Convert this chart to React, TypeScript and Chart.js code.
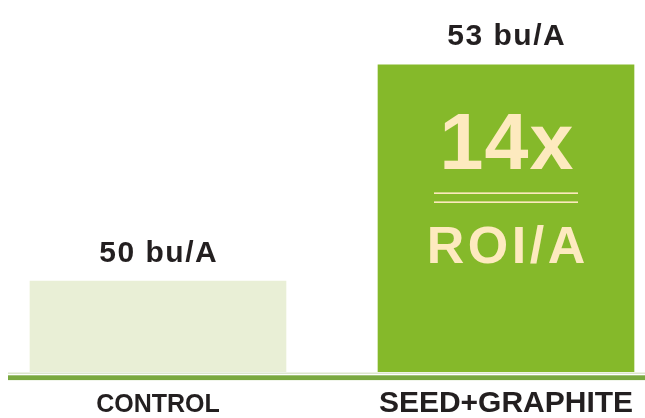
import React, { useEffect, useRef } from "react";
import { Chart, registerables } from "chart.js";

Chart.register(...registerables);

const categories = ["CONTROL", "SEED+GRAPHITE"];
const yieldValues = [50, 53];
const valueLabels = ["50 bu/A", "53 bu/A"];
const roiMultiple = "14x";
const roiLabel = "ROI/A";

const barColors = ["#e9efd6", "#85b92a"];
const textDark = "#231f20";
const cream = "#fdeabf";

const overlayPlugin = {
  id: "overlay",
  afterDatasetsDraw(chart: any) {
    const ctx = chart.ctx as CanvasRenderingContext2D;
    const meta = chart.getDatasetMeta(0);
    const area = chart.chartArea;
    ctx.save();
    // baseline lines across full width
    ctx.fillStyle = "#dbe6cc";
    ctx.fillRect(8, area.bottom + 0.5, chart.width - 8, 1.5);
    ctx.fillStyle = "#7aa940";
    ctx.fillRect(8, area.bottom + 3.3, chart.width - 8, 4.8);

    // value labels above bars
    ctx.fillStyle = textDark;
    ctx.textAlign = "center";
    ctx.textBaseline = "alphabetic";
    (ctx as any).letterSpacing = "1.5px";
    ctx.font = "bold 30px 'Liberation Sans', Arial, sans-serif";
    meta.data.forEach((bar: any, i: number) => {
      ctx.fillText(valueLabels[i], bar.x + 0.75, bar.y - 19.5);
    });

    // category labels under baseline
    (ctx as any).letterSpacing = "0px";
    meta.data.forEach((bar: any, i: number) => {
      ctx.font =
        i === 0
          ? "bold 25px 'Liberation Sans', Arial, sans-serif"
          : "bold 30px 'Liberation Sans', Arial, sans-serif";
      ctx.fillText(categories[i], bar.x, area.bottom + 40);
    });

    // ROI text inside the second bar
    const bar = meta.data[1] as any;
    ctx.fillStyle = cream;
    (ctx as any).letterSpacing = "1px";
    ctx.font = "bold 79px 'Liberation Sans', Arial, sans-serif";
    ctx.fillText(roiMultiple, bar.x + 1, bar.y + 104);
    ctx.fillRect(bar.x - 72, bar.y + 127.5, 144, 1.6);
    ctx.fillRect(bar.x - 72, bar.y + 136.5, 144, 1.6);
    (ctx as any).letterSpacing = "3.5px";
    ctx.font = "bold 52px 'Liberation Sans', Arial, sans-serif";
    ctx.fillText(roiLabel, bar.x + 1.75, bar.y + 198);
    ctx.restore();
  },
};

export default function App() {
  const canvasRef = useRef<HTMLCanvasElement | null>(null);

  useEffect(() => {
    if (!canvasRef.current) return;
    const chart = new Chart(canvasRef.current, {
      type: "bar",
      data: {
        labels: categories,
        datasets: [
          {
            data: yieldValues,
            backgroundColor: barColors,
            borderWidth: 0,
            barThickness: 256,
            clip: { left: false, right: false, top: false, bottom: 0 } as any,
          },
        ],
      },
      options: {
        animation: false,
        responsive: true,
        maintainAspectRatio: false,
        layout: { padding: { left: 158, right: 139, top: 0, bottom: 46 } },
        plugins: {
          legend: { display: false },
          tooltip: { enabled: false },
        },
        scales: {
          x: { type: "category", offset: false, display: false },
          y: { display: false, min: 48.74, max: 53.9 },
        },
      },
      plugins: [overlayPlugin],
    });
    return () => chart.destroy();
  }, []);

  return (
    <div
      style={{
        position: "absolute",
        left: 0,
        top: 0,
        width: 645,
        height: 418,
        background: "#ffffff",
      }}
    >
      <canvas ref={canvasRef} style={{ display: "block" }} />
    </div>
  );
}
